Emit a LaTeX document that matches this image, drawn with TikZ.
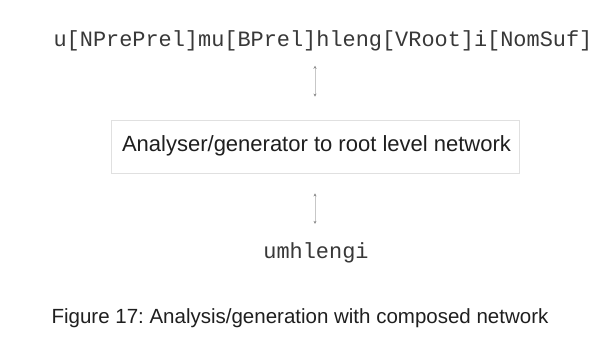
\documentclass[tikz,border=0pt]{standalone}
\usepackage{fontspec}
\setmainfont{Liberation Sans}
\newfontfamily\monofont{Liberation Mono}
\usetikzlibrary{arrows.meta}
\frenchspacing
\begin{document}
\begin{tikzpicture}[x=1pt,y=1pt,
  monotext/.style={font=\monofont\fontsize{21.9}{24}\selectfont, text=black!78, inner sep=0pt, anchor=base},
  boxtext/.style={font=\fontsize{22}{26}\selectfont, text=black!88, inner sep=0pt, anchor=base},
  captiontext/.style={font=\fontsize{20.5}{24}\selectfont, text=black!88, inner sep=0pt, anchor=base},
  faintbox/.style={draw=black!12, line width=0.8pt},
  link/.style={draw=black!22, line width=0.5pt, {Stealth[length=3pt,width=3pt,color=black!45]}-{Stealth[length=3pt,width=3pt,color=black!45]}}]
  % page area
  \fill[white] (0,0) rectangle (605,-350);
  \useasboundingbox (0,0) rectangle (605,-350);

  % tagged analysis string
  \node[monotext] (tagged) at (323,-47) {u[NPrePrel]mu[BPrel]hleng[VRoot]i[NomSuf]};

  % network box
  \node[faintbox, minimum width=408pt, minimum height=53pt, inner sep=0pt] (net) at (315,-146.5) {};
  \node[boxtext] (nettext) at (316.5,-152) {Analyser/generator to root level network};

  % surface form
  \node[monotext] (surface) at (316,-258) {umhlengi};

  % connectors
  \draw[link, shorten <=14pt, shorten >=23pt] (tagged.south -| net.north) -- (net.north);
  \draw[link, shorten <=20pt, shorten >=18pt] (net.south) -- (surface.north -| net.south);

  % caption
  \node[captiontext] (caption) at (300,-323) {Figure 17: Analysis/generation with composed network};
\end{tikzpicture}
\end{document}
